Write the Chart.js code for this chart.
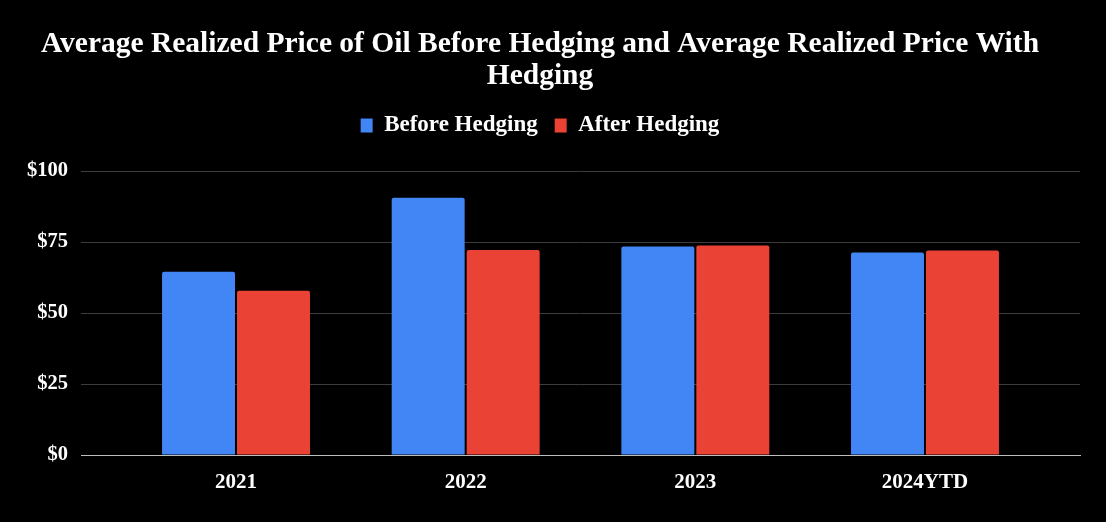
<!DOCTYPE html>
<html>
<head>
<meta charset="utf-8">
<script src="https://cdn.jsdelivr.net/npm/chart.js@4"></script>
<style>
  html, body { margin: 0; padding: 0; background: #000; }
  #wrap { width: 1106px; height: 522px; }
</style>
</head>
<body>
<div id="wrap"><canvas id="oilChart"></canvas></div>
<script>
const categories = ['2021', '2022', '2023', '2024YTD'];
const beforeHedging = [64.5, 90.6, 73.4, 71.3];
const afterHedging = [57.8, 72.2, 73.8, 72.0];
const yTicks = [0, 25, 50, 75, 100];

const serif = "'Liberation Serif', 'Times New Roman', serif";

// push the plot area down below the legend
const legendGap = {
    id: 'legendGap',
    beforeInit(chart) {
        const fit = chart.legend.fit;
        chart.legend.fit = function() {
            fit.bind(chart.legend)();
            this.height += 24;
        };
    }
};

document.addEventListener('DOMContentLoaded', function() {
    const ctx = document.getElementById('oilChart');

    new Chart(ctx, {
        type: 'bar',
        data: {
            datasets: [{
                label: 'Before Hedging',
                data: beforeHedging.map((v, i) => ({ x: i, y: v })),
                backgroundColor: '#4285F4',
                borderRadius: 2,
                borderSkipped: 'start'
            }, {
                label: 'After Hedging',
                data: afterHedging.map((v, i) => ({ x: i, y: v })),
                backgroundColor: '#EA4335',
                borderRadius: 2,
                borderSkipped: 'start'
            }]
        },
        options: {
            responsive: true,
            maintainAspectRatio: false,
            animation: false,
            categoryPercentage: 0.653,
            barPercentage: 0.973,
            layout: { padding: { left: 0, right: 26, top: 0, bottom: 0 } },
            plugins: {
                title: {
                    display: true,
                    text: ['Average Realized Price of Oil Before Hedging and Average Realized Price With', 'Hedging'],
                    color: '#ffffff',
                    font: { family: serif, size: 29.5, weight: 'bold', lineHeight: 1.085 },
                    padding: { top: 28, bottom: 5 }
                },
                legend: {
                    labels: {
                        color: '#ffffff',
                        boxWidth: 12,
                        boxHeight: 14,
                        padding: 17,
                        font: { family: serif, size: 23, weight: 'bold' }
                    }
                },
                tooltip: { enabled: false }
            },
            scales: {
                x: {
                    type: 'linear',
                    offset: false,
                    min: -0.675,
                    max: 3.675,
                    afterBuildTicks: s => { s.ticks = categories.map((c, i) => ({ value: i })); },
                    afterFit: s => { s.height = 67; },
                    ticks: {
                        color: '#ffffff',
                        padding: 15,
                        font: { family: serif, size: 21, weight: 'bold' },
                        callback: v => categories[v]
                    },
                    grid: { display: false, drawTicks: false, offset: false },
                    border: { display: true, color: '#bdbdbd' }
                },
                y: {
                    min: 0,
                    max: 100,
                    afterBuildTicks: s => { s.ticks = yTicks.map(v => ({ value: v })); },
                    afterFit: s => { s.width = 81; },
                    ticks: {
                        color: '#ffffff',
                        padding: 13,
                        font: { family: serif, size: 20.5, weight: 'bold' },
                        callback: v => '$' + v
                    },
                    grid: {
                        drawTicks: false,
                        color: c => c.tick.value === 0 ? '#bdbdbd' : '#3d3d3d'
                    },
                    border: { display: false }
                }
            }
        },
        plugins: [legendGap]
    });
});
</script>
</body>
</html>
